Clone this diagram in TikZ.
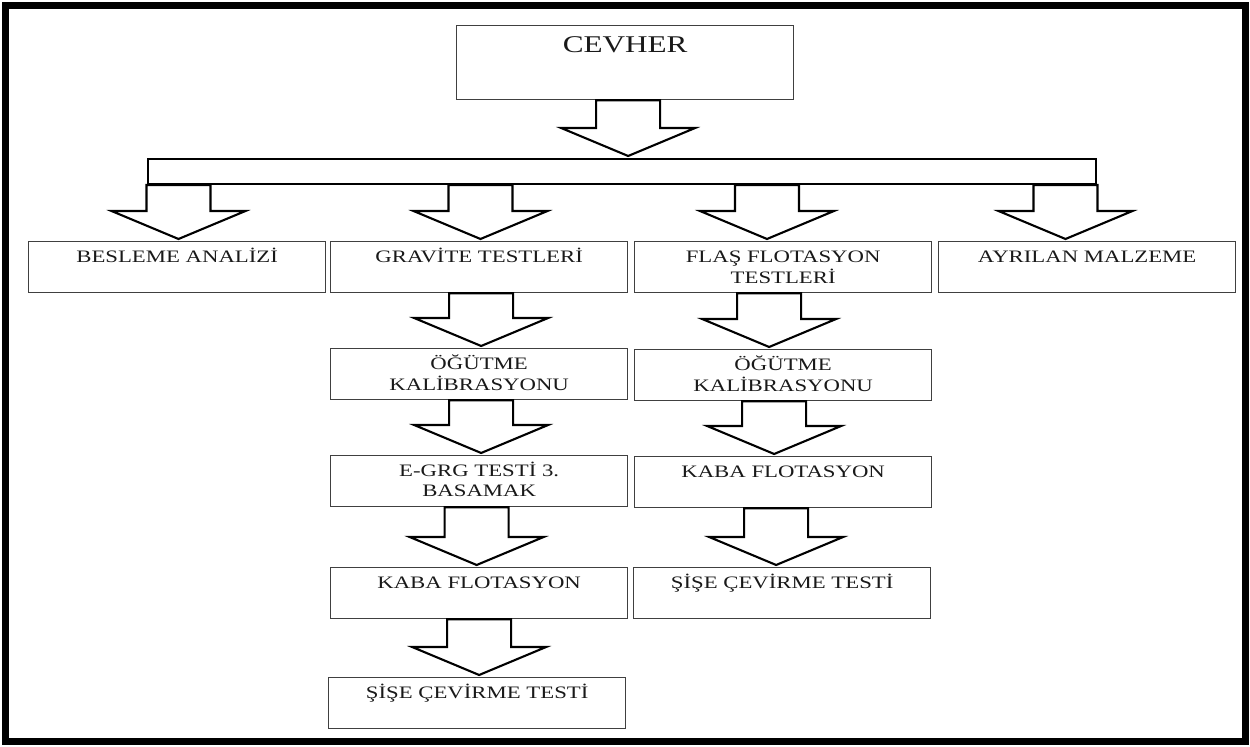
\documentclass[tikz,border=0pt]{standalone}
\usepackage{fontspec}
\setmainfont{Liberation Serif}
\usetikzlibrary{calc}

% widened caption text, lines stacked on the first baseline
\newcommand\widetext[1]{\scalebox{1.3}[1]{\begin{tabular}[t]{@{}c@{}}#1\end{tabular}}}

% hollow block arrow from a start point down to the top of a target
\newcommand\blockarrow[2]{%
  \draw[arrowline] let \p1=#1, \p2=#2 in
    (\x1-16pt,\y1) -- (\x1-16pt,\y2+15pt) -- (\x1-33.5pt,\y2+15pt) -- (\x1,\y2+1pt)
    -- (\x1+33.5pt,\y2+15pt) -- (\x1+16pt,\y2+15pt) -- (\x1+16pt,\y1) -- cycle;}

\tikzset{
  box/.style={draw=black!75, line width=0.65pt, rectangle, inner sep=0pt,
    minimum width=148.5pt, minimum height=25.5pt, anchor=north west},
  bigbox/.style={box, minimum width=168.5pt, minimum height=37pt},
  barbox/.style={draw=black, line width=1pt, rectangle, inner sep=0pt,
    minimum width=474pt, minimum height=12.5pt, anchor=north west},
  arrowline/.style={draw=black, line width=1.05pt, fill=white},
  lbl/.style={anchor=base, inner sep=0pt, text=black!90,
    font=\fontsize{8.75}{10}\selectfont},
  biglbl/.style={lbl, font=\fontsize{12}{14}\selectfont},
}

\begin{document}
\begin{tikzpicture}[x=0.5pt, y=-0.5pt]
\useasboundingbox (0,0) rectangle (1250,747);
\draw[line width=3.5pt] (5,5.5) rectangle (1245,742);

% boxes
\node[bigbox] (cev) at (456,25) {};
\node[barbox] (bar) at (147,158) {};

\node[box] (besl) at (28,241) {};
\node[box] (gra) at (330,241) {};
\node[box] (fla) at (634,241) {};
\node[box] (ayr) at (938,241) {};

\node[box] (og1) at (330,348) {};
\node[box] (egr) at (330,455) {};
\node[box] (kab1) at (330,567) {};
\node[box] (sis1) at (328,677) {};

\node[box] (og2) at (634,349) {};
\node[box] (kab2) at (634,456) {};
\node[box] (sis2) at (633,567) {};

% captions
\node[biglbl] (cev-t) at ($(cev.north)+(0,28)$) {\widetext{CEVHER}};
\node[lbl] (besl-t) at ($(besl.north)+(0,22)$) {\widetext{BESLEME ANALİZİ}};
\node[lbl] (gra-t) at ($(gra.north)+(0,22)$) {\widetext{GRAVİTE TESTLERİ}};
\node[lbl] (fla-t) at ($(fla.north)+(0,22)$) {\widetext{FLAŞ FLOTASYON\\TESTLERİ}};
\node[lbl] (ayr-t) at ($(ayr.north)+(0,22)$) {\widetext{AYRILAN MALZEME}};
\node[lbl] (og1-t) at ($(og1.north)+(0,22)$) {\widetext{ÖĞÜTME\\KALİBRASYONU}};
\node[lbl] (egr-t) at ($(egr.north)+(0,22)$) {\widetext{E-GRG TESTİ 3.\\BASAMAK}};
\node[lbl] (kab1-t) at ($(kab1.north)+(0,22)$) {\widetext{KABA FLOTASYON}};
\node[lbl] (sis1-t) at ($(sis1.north)+(0,22)$) {\widetext{ŞİŞE ÇEVİRME TESTİ}};
\node[lbl] (og2-t) at ($(og2.north)+(0,22)$) {\widetext{ÖĞÜTME\\KALİBRASYONU}};
\node[lbl] (kab2-t) at ($(kab2.north)+(0,22)$) {\widetext{KABA FLOTASYON}};
\node[lbl] (sis2-t) at ($(sis2.north)+(0,22)$) {\widetext{ŞİŞE ÇEVİRME TESTİ}};

% block arrows
\blockarrow{($(cev.south)+(3,0)$)}{(bar.north)}
\blockarrow{($(bar.south west)+(31.5,0)$)}{(besl.north)}
\blockarrow{($(bar.south west)+(333.5,0)$)}{(gra.north)}
\blockarrow{($(bar.south west)+(620,0)$)}{(fla.north)}
\blockarrow{($(bar.south east)+(-31.5,0)$)}{(ayr.north)}

\blockarrow{($(gra.south)+(2,0)$)}{(og1.north)}
\blockarrow{($(og1.south)+(2,0)$)}{(egr.north)}
\blockarrow{($(egr.south)+(-2.5,0)$)}{(kab1.north)}
\blockarrow{($(kab1.south)+(0,0)$)}{(sis1.north)}

\blockarrow{($(fla.south)+(-14,0)$)}{(og2.north)}
\blockarrow{($(og2.south)+(-9,0)$)}{(kab2.north)}
\blockarrow{($(kab2.south)+(-7,0)$)}{(sis2.north)}
\end{tikzpicture}
\end{document}
